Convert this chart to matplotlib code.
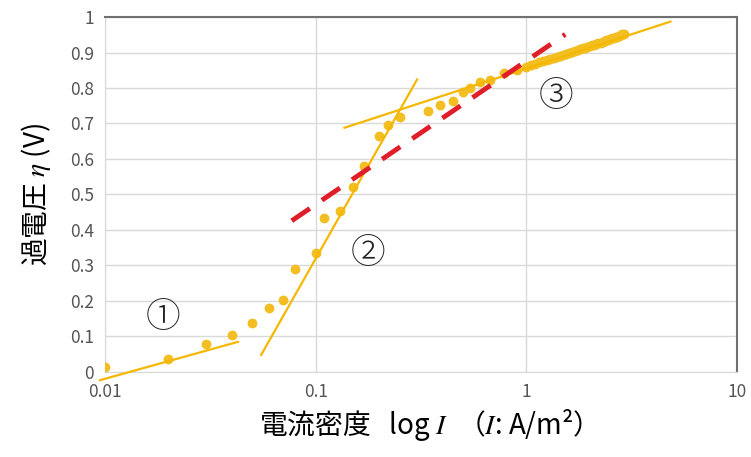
import numpy as np
import matplotlib.pyplot as plt

plt.rcParams['font.family'] = ['Noto Sans CJK JP', 'DejaVu Sans']
plt.rcParams['mathtext.fontset'] = 'stix'

# measured points: current density (A/m2) and overpotential (V)
current = [0.01, 0.02, 0.03, 0.04, 0.05, 0.06, 0.07, 0.08, 0.10, 0.11, 0.13,
           0.15, 0.17, 0.20, 0.22, 0.25, 0.34, 0.39, 0.45, 0.50, 0.54, 0.60,
           0.67, 0.78, 0.90,
           1.00, 1.05, 1.10, 1.15, 1.20, 1.25, 1.30, 1.35, 1.40, 1.45, 1.50,
           1.55, 1.60, 1.65, 1.70, 1.75, 1.80, 1.85, 1.90, 1.95, 2.00, 2.05,
           2.10, 2.15, 2.20, 2.25, 2.30, 2.35, 2.40, 2.45, 2.50, 2.55, 2.60,
           2.65, 2.70, 2.75, 2.80, 2.85, 2.90]
eta = [0.015, 0.037, 0.078, 0.104, 0.139, 0.179, 0.203, 0.291, 0.336, 0.435,
       0.453, 0.520, 0.581, 0.665, 0.696, 0.717, 0.735, 0.752, 0.763, 0.790,
       0.800, 0.818, 0.822, 0.841, 0.851,
       0.860, 0.864, 0.868, 0.872, 0.876, 0.879, 0.882, 0.885, 0.888, 0.891,
       0.894, 0.897, 0.900, 0.902, 0.905, 0.907, 0.910, 0.912, 0.914, 0.916,
       0.918, 0.920, 0.922, 0.924, 0.926, 0.928, 0.930, 0.932, 0.934, 0.936,
       0.938, 0.940, 0.941, 0.943, 0.945, 0.947, 0.949, 0.951, 0.953]

# Tafel fits for the three regions
fit1_x = [0.00947, 0.0428]
fit1_y = [-0.023, 0.085]
fit2_x = [0.0551, 0.303]
fit2_y = [0.048, 0.824]
fit3_x = [0.137, 4.83]
fit3_y = [0.688, 0.987]
overall_x = [0.077, 1.53]
overall_y = [0.426, 0.951]

labels = ['①', '②', '③']
label_x = [0.0189, 0.177, 1.39]
label_y = [0.155, 0.335, 0.777]

gold = '#F2BE22'
fig = plt.figure(figsize=(7.51, 4.57), dpi=100)
ax = fig.add_axes([0.1398, 0.186, 0.8416, 0.7768])

ax.scatter(current, eta, s=50, color=gold, zorder=3, linewidths=0)
for fx, fy in [(fit1_x, fit1_y), (fit2_x, fit2_y), (fit3_x, fit3_y)]:
    ax.plot(fx, fy, color='#F5B700', lw=1.6, zorder=4, clip_on=False)
ax.plot(overall_x, overall_y, color='#E01E2A', lw=3.5, ls=(0, (4.5, 3.0)), zorder=5)

for t, x, y in zip(labels, label_x, label_y):
    ax.text(x, y, t, fontsize=25, ha='center', va='center', color='#222222',
            family=['Noto Sans CJK JP', 'DejaVu Sans'], fontweight='light')

ax.set_xscale('log')
ax.set_xlim(0.01, 10)
ax.set_ylim(0, 1)
ax.set_xticks([0.01, 0.1, 1, 10])
ax.set_xticklabels(['0.01', '0.1', '1', '10'])
ax.set_xticks([], minor=True)
ax.set_yticks(np.arange(0, 1.01, 0.1))
ax.set_yticklabels(['0'] + ['%.1f' % v for v in np.arange(0.1, 0.95, 0.1)] + ['1'])
ax.tick_params(length=0, labelsize=12.5, colors='#555555', pad=8)
ax.grid(True, color='#D9D9D9', lw=1)
ax.set_axisbelow(True)
for side in ['left', 'bottom']:
    ax.spines[side].set_color('#D9D9D9')
for side in ['top', 'right']:
    ax.spines[side].set_color('#707070')
    ax.spines[side].set_linewidth(1.5)

ax.set_xlabel('電流密度   log $I$  （$I$: A/m²）', fontsize=20, labelpad=4)
ax.set_ylabel('過電圧 $\\eta$ (V)', fontsize=20, labelpad=12)

fig.savefig('out.png')
